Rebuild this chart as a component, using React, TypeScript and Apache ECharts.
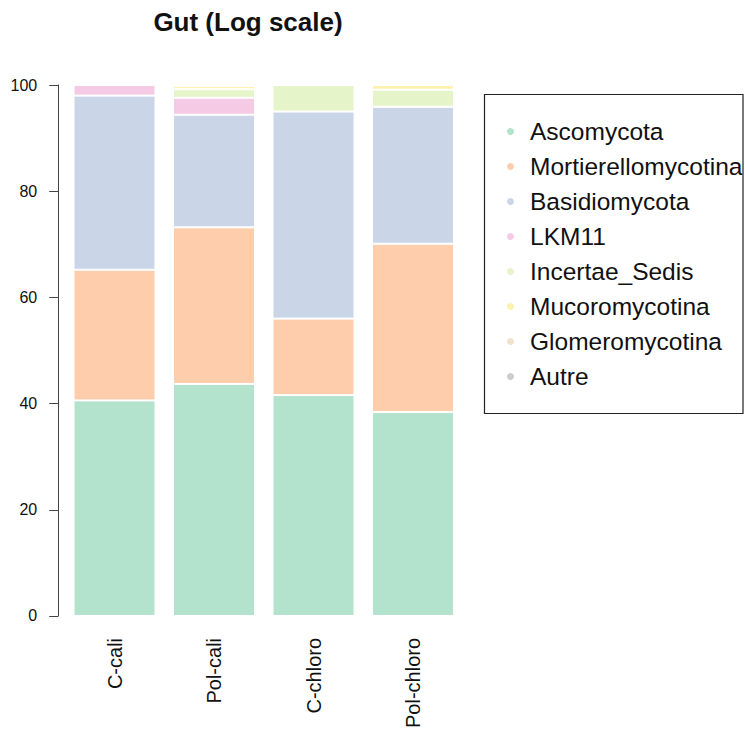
import React, { useEffect, useRef } from "react";
import * as echarts from "echarts";

const categories = ["C-cali", "Pol-cali", "C-chloro", "Pol-chloro"];
const seriesNames = [
  "Ascomycota",
  "Mortierellomycotina",
  "Basidiomycota",
  "LKM11",
  "Incertae_Sedis",
  "Mucoromycotina",
  "Glomeromycotina",
  "Autre",
];
const ascomycota = [40.6, 43.7, 41.6, 38.4];
const mortierellomycotina = [24.6, 29.5, 14.4, 31.7];
const basidiomycota = [32.8, 21.2, 39.0, 25.8];
const lkm11 = [2.0, 3.2, 0, 0];
const incertaeSedis = [0, 1.6, 5.0, 3.2];
const mucoromycotina = [0, 0.6, 0, 0.9];
const glomeromycotina = [0, 0.2, 0, 0];
const autre = [0, 0, 0, 0];
const yTicks = [0, 20, 40, 60, 80, 100];

const seriesValues = [
  ascomycota,
  mortierellomycotina,
  basidiomycota,
  lkm11,
  incertaeSedis,
  mucoromycotina,
  glomeromycotina,
  autre,
];
const colors = ["#B3E2CD", "#FDCDAC", "#CBD5E8", "#F4CAE4", "#E6F5C9", "#FFF2AE", "#F1E2CC", "#CCCCCC"];

const FONT = "'Liberation Sans', Arial, Helvetica, sans-serif";

export default function App() {
  const ref = useRef<HTMLDivElement>(null);
  useEffect(() => {
    if (!ref.current) return;
    const chart = echarts.init(ref.current, undefined, { renderer: "svg" });
    chart.setOption({
      animation: false,
      color: colors,
      textStyle: { fontFamily: FONT },
      grid: { left: 64.75, top: 85, width: 398, height: 535, containLabel: false },
      graphic: [
        {
          type: "text",
          x: 248,
          y: 22,
          style: {
            text: "Gut (Log scale)",
            fontFamily: FONT,
            fontWeight: "bold",
            fontSize: 26,
            fill: "#111",
            textAlign: "center",
            textVerticalAlign: "middle",
          },
        },
        {
          type: "rect",
          shape: { x: 484.5, y: 94.5, width: 258.5, height: 319 },
          style: { fill: "none", stroke: "#222", lineWidth: 1.2 },
          z: 10,
        },
      ],
      legend: {
        orient: "vertical",
        left: 505,
        top: 114,
        padding: 0,
        itemGap: 0,
        itemWidth: 29,
        itemHeight: 9,
        icon: "circle",
        data: seriesNames,
        selectedMode: false,
        textStyle: { fontFamily: FONT, fontSize: 24.5, color: "#111", lineHeight: 35 },
      },
      xAxis: {
        type: "category",
        data: categories,
        axisLine: { show: false },
        axisTick: { show: false },
        axisLabel: {
          rotate: 90,
          margin: 22,
          fontSize: 20,
          color: "#111",
          fontFamily: FONT,
        },
      },
      yAxis: {
        type: "value",
        min: 0,
        max: 100,
        interval: 20,
        offset: 6.5,
        splitLine: { show: false },
        axisLine: { show: true, lineStyle: { color: "#444", width: 1 } },
        axisTick: { show: true, length: 9, lineStyle: { color: "#444", width: 1 } },
        axisLabel: {
          margin: 21,
          fontSize: 16,
          color: "#111",
          fontFamily: FONT,
          customValues: yTicks,
        },
      },
      series: seriesNames.map((name, i) => ({
        name,
        type: "bar",
        stack: "total",
        barWidth: 82,
        data: seriesValues[i],
        itemStyle: { color: colors[i], borderColor: "#ffffff", borderWidth: 1 },
      })),
    });
    return () => chart.dispose();
  }, []);
  return (
    <div
      ref={ref}
      style={{ position: "absolute", left: 0, top: 0, width: 745, height: 731, background: "#fff" }}
    />
  );
}
